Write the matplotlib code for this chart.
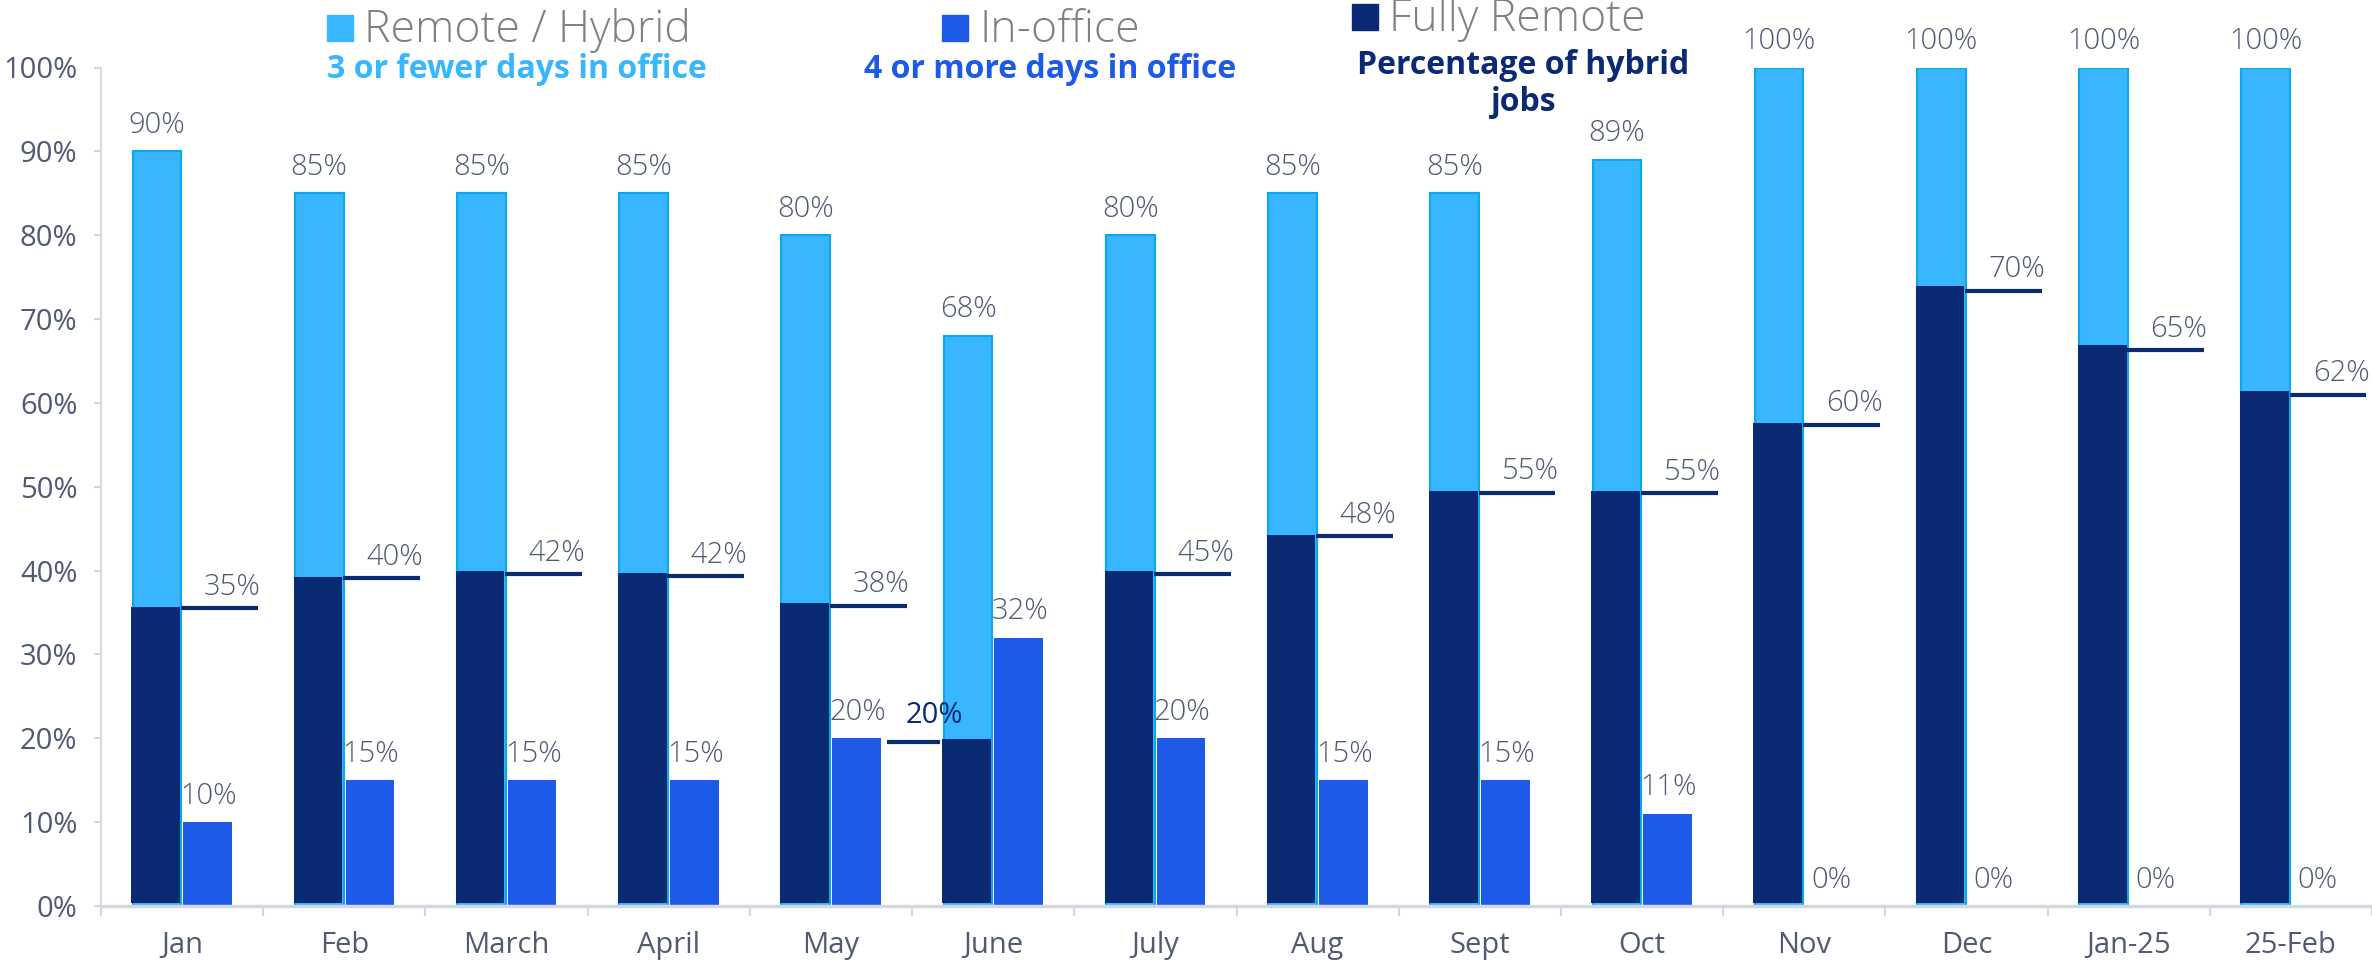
import matplotlib; matplotlib.use("Agg")
import matplotlib.pyplot as plt
import numpy as np

# data
months = ["Jan", "Feb", "March", "April", "May", "June", "July", "Aug",
          "Sept", "Oct", "Nov", "Dec", "Jan-25", "25-Feb"]
remote_hybrid = [90, 85, 85, 85, 80, 68, 80, 85, 85, 89, 100, 100, 100, 100]
in_office = [10, 15, 15, 15, 20, 32, 20, 15, 15, 11, 0, 0, 0, 0]
fully_remote = [35.7, 39.2, 39.9, 39.7, 36.1, 19.9, 39.9, 44.3, 49.5, 49.5, 57.6, 74.0, 66.9, 61.4]
hybrid_level = [35.5, 39.1, 39.6, 39.3, 35.8, 19.6, 39.6, 44.1, 49.3, 49.2, 57.4, 73.4, 66.3, 61.0]
hybrid_labels = ["35%", "40%", "42%", "42%", "38%", "20%", "45%", "48%",
                 "55%", "55%", "60%", "70%", "65%", "62%"]

LIGHT, LIGHT_EDGE = "#38B6FF", "#0AA8EE"
NAVY, BLUE = "#0B2A74", "#1D5AE8"
TXT, AXC, GREY = "#505A74", "#D3D7DF", "#808080"
plt.rcParams["font.family"] = ["Open Sans", "DejaVu Sans"]

W, H = 2372, 966
fig = plt.figure(figsize=(W / 100, H / 100), dpi=100)
ax = fig.add_axes([101 / W, 60 / H, (W - 101) / W, (906 - 67.5) / H])
x = np.arange(len(months))

ax.bar(x - 0.155, remote_hybrid, width=0.30, color=LIGHT, edgecolor=LIGHT_EDGE, linewidth=1.5, zorder=2)
ax.bar(x - 0.163, np.array(fully_remote) - 0.4, bottom=0.4, width=0.30, color=NAVY, linewidth=0, zorder=3)
ax.bar(x + 0.158, in_office, width=0.30, color=BLUE, linewidth=0, zorder=2)

lab = dict(fontsize=21, color=TXT, fontweight="light")
for i in x:
    ax.text(i - 0.155, remote_hybrid[i] + 2.2, f"{remote_hybrid[i]}%", ha="center", va="baseline", **lab)
    ax.text(i + 0.165, in_office[i] + 2.2, f"{in_office[i]}%", ha="center", va="baseline", **lab)
    if months[i] == "June":
        ax.hlines(hybrid_level[i], i - 0.655, i - 0.33, color=NAVY, lw=3, zorder=4)
        ax.text(i - 0.36, hybrid_level[i] + 2.2, hybrid_labels[i], ha="center", va="baseline",
                fontsize=21, color=NAVY)
    else:
        ax.hlines(hybrid_level[i], i - 0.008, i + 0.466, color=NAVY, lw=3, zorder=4)
        ax.text(i + 0.485, hybrid_level[i] + 1.6, hybrid_labels[i], ha="right", va="baseline", **lab)

ax.set_xlim(-0.5, len(months) - 0.5)
ax.set_ylim(0, 100)
ax.set_yticks(np.arange(0, 101, 10))
ax.set_yticklabels([f"{v}%" for v in range(0, 101, 10)])
ax.set_xticks(np.arange(-0.5, len(months)))
ax.set_xticklabels([])
ax.set_xticks(x, minor=True)
ax.set_xticklabels(months, minor=True)
ax.tick_params(axis="x", which="major", length=7, width=1.5, color=AXC)
ax.tick_params(axis="x", which="minor", length=0, pad=18, labelsize=21, labelcolor=TXT)
ax.tick_params(axis="y", length=5, width=1.5, color=AXC, pad=12, labelsize=21, labelcolor=TXT)
for s in ["top", "right"]:
    ax.spines[s].set_visible(False)
ax.spines["left"].set_color("#DADADA")
ax.spines["left"].set_linewidth(1.5)
ax.spines["bottom"].set_color(AXC)
ax.spines["bottom"].set_linewidth(2.5)
ax.set_facecolor("none")


# legend drawn as figure text (pixel positions converted)
def fx(px):
    return px / W


def fy(py):
    return 1 - py / H


legend_items = [
    (327, 15, LIGHT, "Remote / Hybrid", 42),
    (942, 15, BLUE, "In-office", 42),
    (1352, 4, NAVY, "Fully Remote", 31),
]
for px, py, col, name, base in legend_items:
    fig.patches.append(plt.Rectangle((fx(px), fy(py + 26)), 26 / W, 26 / H, color=col,
                                     transform=fig.transFigure, figure=fig))
    fig.text(fx(px + 37), fy(base), name, fontsize=32, color=GREY, fontweight="light",
             ha="left", va="baseline")

sub = dict(fontsize=23, fontweight="bold", ha="center", va="baseline")
fig.text(fx(517), fy(78), "3 or fewer days in office", color=LIGHT, **sub)
fig.text(fx(1050), fy(78), "4 or more days in office", color=BLUE, **sub)
fig.text(fx(1523), fy(74), "Percentage of hybrid", color=NAVY, **sub)
fig.text(fx(1523), fy(111), "jobs", color=NAVY, **sub)

fig.savefig("out.png", dpi=100)
